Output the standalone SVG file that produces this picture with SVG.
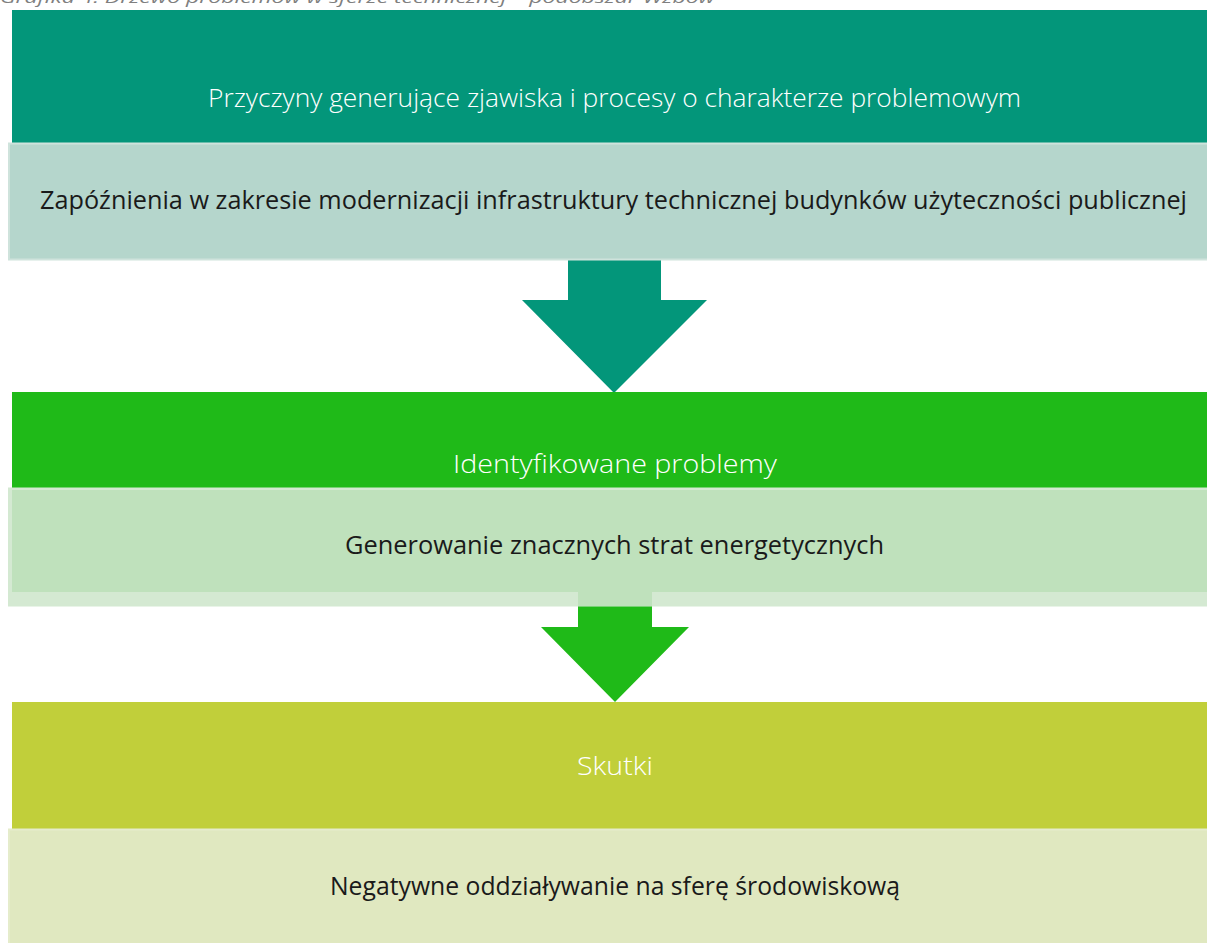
<svg xmlns="http://www.w3.org/2000/svg" width="1207" height="943" viewBox="0 0 1207 943">
<style>
.t{font-family:"Open Sans","Liberation Sans",sans-serif;font-size:25px;text-anchor:middle}
.hd{fill:#ffffff;font-weight:300}
.bd{fill:#1a1a1a}
.cap{font-family:"Open Sans","Liberation Sans",sans-serif;font-size:15px;font-style:italic;fill:#7f7f7f}
</style>
<rect width="1207" height="943" fill="#ffffff"/>
<text class="cap" x="0" y="3" textLength="715" lengthAdjust="spacingAndGlyphs">Grafika 4. Drzewo problemów w sferze technicznej – podobszar Wzbów</text>
<g id="connectors">
<polygon points="568,258 661,258 661,300 707,300 614,393 522,300 568,300" fill="#03967A"/>
<polygon points="578,592 652,592 652,627 689,627 615,702 541,627 578,627" fill="#1FBA18"/>
</g>
<g id="n1">
<rect x="12" y="10" width="1195" height="133" fill="#03967A"/>
<text class="t hd" x="614.5" y="107" textLength="813" lengthAdjust="spacingAndGlyphs">Przyczyny generujące zjawiska i procesy o charakterze problemowym</text>
</g>
<g id="n2">
<rect x="9" y="143.5" width="1199" height="116" fill="#B5D6CC" stroke="#CFE3DC" stroke-width="2"/>
<text class="t bd" x="613.5" y="209" textLength="1147" lengthAdjust="spacingAndGlyphs">Zapóźnienia w zakresie modernizacji infrastruktury technicznej budynków użyteczności publicznej</text>
</g>
<g id="n3">
<rect x="12" y="392" width="1195" height="96" fill="#1FBA18"/>
<text class="t hd" x="615" y="473" textLength="324" lengthAdjust="spacingAndGlyphs">Identyfikowane problemy</text>
</g>
<g id="n4">
<rect x="9" y="488.5" width="1199" height="117" fill="#D4E9D2" stroke="#D4E9D2" stroke-width="2"/>
<rect x="12" y="490" width="1195" height="102" fill="#BFE1BC"/>
<rect x="578" y="592" width="74" height="14" fill="#BFE1BC"/>
<text class="t bd" x="614.5" y="554" textLength="539" lengthAdjust="spacingAndGlyphs">Generowanie znacznych strat energetycznych</text>
</g>
<g id="n5">
<rect x="12" y="702" width="1195" height="127" fill="#C1CF3A"/>
<text class="t hd" x="615" y="775" textLength="76" lengthAdjust="spacingAndGlyphs">Skutki</text>
</g>
<g id="n6">
<rect x="9" y="829.5" width="1199" height="115" fill="#E0E8C0" stroke="#E5ECCB" stroke-width="2"/>
<text class="t bd" x="615" y="895" textLength="570" lengthAdjust="spacingAndGlyphs">Negatywne oddziaływanie na sferę środowiskową</text>
</g>
</svg>
